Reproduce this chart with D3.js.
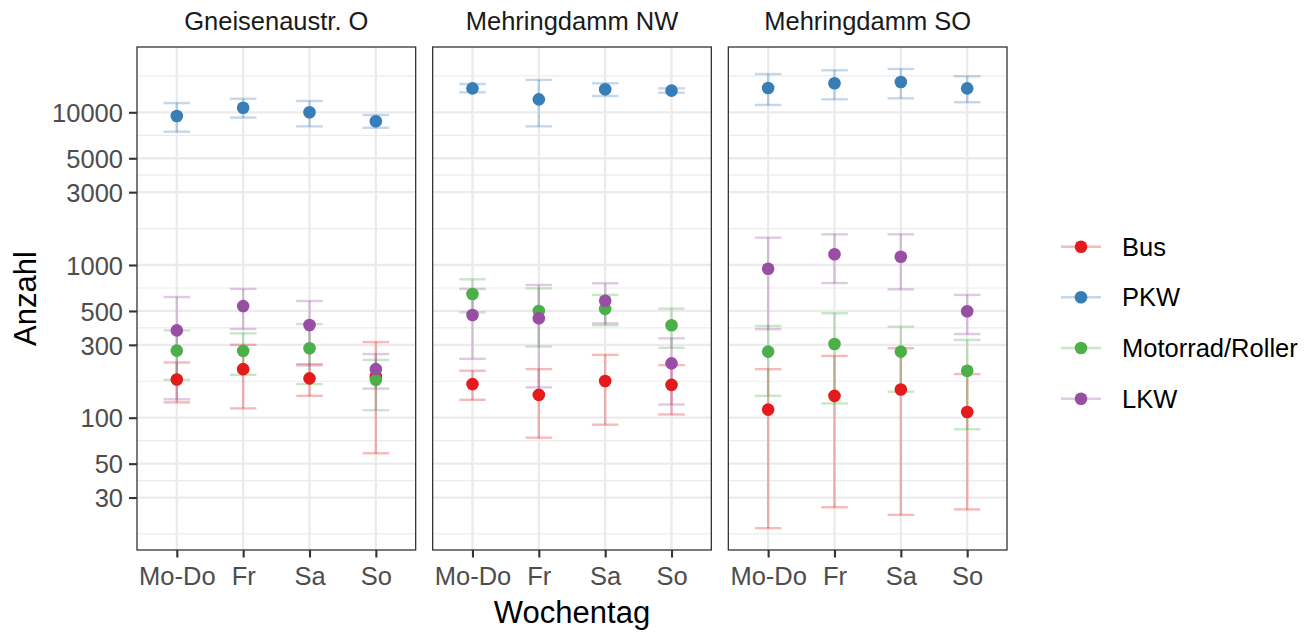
<!DOCTYPE html>
<html>
<head>
<meta charset="utf-8">
<script src="https://cdn.jsdelivr.net/npm/d3@7"></script>
<style>
  html, body { margin: 0; padding: 0; background: #fff; }
  svg { display: block; font-family: "Liberation Sans", Arial, Helvetica, sans-serif; }
</style>
</head>
<body>
<svg id="chart" width="1314" height="633"></svg>
<script>
// ---------- data ----------
const days = ["Mo-Do", "Fr", "Sa", "So"];
const stations = ["Gneisenaustr. O", "Mehringdamm NW", "Mehringdamm SO"];
const types = ["Bus", "PKW", "Motorrad/Roller", "LKW"];
const typeColors = ["#E41A1C", "#377EB8", "#4DAF4A", "#984EA3"];
const yTicks = [30, 50, 100, 300, 500, 1000, 3000, 5000, 10000];
const yBreaksAll = [10, 30, 50, 100, 300, 500, 1000, 3000, 5000, 10000, 30000];

// per station (rows) x day (cols)
const busMean = [[178, 208, 181, 186], [166, 141, 174, 164], [113, 139, 153, 109]];
const busLow  = [[126, 115, 139, 58.5], [131, 74, 90, 105], [18.9, 25.9, 23.1, 25.1]];
const busHigh = [[230, 300, 224, 313], [203, 208, 258, 221], [208, 254, 285, 193]];

const pkwMean = [[9460, 10720, 10000, 8730], [14350, 12160, 14150, 13860], [14430, 15490, 15790, 14350]];
const pkwLow  = [[7460, 9230, 8090, 7920], [13520, 8090, 12790, 13430], [11170, 12160, 12350, 11640]];
const pkwHigh = [[11500, 12270, 11860, 9600], [15310, 16300, 15490, 14350], [17810, 18850, 19230, 17210]];

const motoMean = [[275, 274, 285, 177], [646, 500, 516, 403], [271, 304, 271, 203]];
const motoLow  = [[177, 191, 166, 112], [490, 292, 403, 287], [139, 124, 148, 84]];
const motoHigh = [[373, 357, 410, 239], [806, 703, 637, 518], [399, 483, 395, 323]];

const lkwMean = [[373, 538, 405, 208], [471, 448, 583, 227], [946, 1175, 1133, 498]];
const lkwLow  = [[132, 381, 220, 155], [243, 158, 415, 122], [380, 762, 693, 353]];
const lkwHigh = [[617, 697, 581, 261], [697, 740, 759, 331], [1510, 1588, 1588, 637]];

const seriesMean = [busMean, pkwMean, motoMean, lkwMean];
const seriesLow = [busLow, pkwLow, motoLow, lkwLow];
const seriesHigh = [busHigh, pkwHigh, motoHigh, lkwHigh];

// ---------- layout ----------
const svg = d3.select("#chart");
const plotLeft = 137, plotRight = 1007, gap = 17;
const panelTop = 47, panelBottom = 550;
const panelW = (plotRight - plotLeft - 2 * gap) / 3;

const y = d3.scaleLog()
  .domain([Math.pow(10, 3 - 285 / 152.7), Math.pow(10, 3 + 218 / 152.7)])
  .range([panelBottom, panelTop]);

// minor breaks: midpoints (in log space) between consecutive major breaks
const minorBreaks = [];
for (let i = 0; i < yBreaksAll.length - 1; i++) {
  minorBreaks.push(Math.sqrt(yBreaksAll[i] * yBreaksAll[i + 1]));
}
const [dMin, dMax] = y.domain();
const inDomain = v => v >= dMin && v <= dMax;

const fontSmall = 25.5;
const textGray = "#4D4D4D";

stations.forEach((st, si) => {
  const x0 = plotLeft + si * (panelW + gap);
  const x = d3.scalePoint().domain(days).range([x0, x0 + panelW]).padding(0.6);
  const step = x.step();
  const g = svg.append("g");

  // background
  g.append("rect").attr("x", x0).attr("y", panelTop)
    .attr("width", panelW).attr("height", panelBottom - panelTop).attr("fill", "#fff");

  // minor grid
  g.selectAll(".minor").data(minorBreaks.filter(inDomain)).enter().append("line")
    .attr("x1", x0).attr("x2", x0 + panelW)
    .attr("y1", d => y(d)).attr("y2", d => y(d))
    .attr("stroke", "#EBEBEB").attr("stroke-width", 1.2);
  // major grid (horizontal)
  g.selectAll(".major").data(yBreaksAll.filter(inDomain)).enter().append("line")
    .attr("x1", x0).attr("x2", x0 + panelW)
    .attr("y1", d => y(d)).attr("y2", d => y(d))
    .attr("stroke", "#EBEBEB").attr("stroke-width", 2.3);
  // vertical grid
  g.selectAll(".vgrid").data(days).enter().append("line")
    .attr("x1", d => x(d)).attr("x2", d => x(d))
    .attr("y1", panelTop).attr("y2", panelBottom)
    .attr("stroke", "#EBEBEB").attr("stroke-width", 2.3);

  // error bars
  types.forEach((t, ti) => {
    const col = typeColors[ti];
    const eb = g.append("g").attr("stroke", col).attr("stroke-opacity", 0.3)
      .attr("stroke-width", 2.4).attr("fill", "none");
    days.forEach((d, di) => {
      const lo = seriesLow[ti][si][di], hi = seriesHigh[ti][si][di];
      const cx = x(d), hw = step * 0.2;
      eb.append("line").attr("x1", cx).attr("x2", cx).attr("y1", y(lo)).attr("y2", y(hi));
      eb.append("line").attr("x1", cx - hw).attr("x2", cx + hw).attr("y1", y(lo)).attr("y2", y(lo));
      eb.append("line").attr("x1", cx - hw).attr("x2", cx + hw).attr("y1", y(hi)).attr("y2", y(hi));
    });
  });

  // points
  types.forEach((t, ti) => {
    g.selectAll(".pt" + ti).data(days).enter().append("circle")
      .attr("cx", d => x(d))
      .attr("cy", (d, di) => y(seriesMean[ti][si][di]))
      .attr("r", 6.3)
      .attr("fill", typeColors[ti]);
  });

  // panel border
  g.append("rect").attr("x", x0).attr("y", panelTop)
    .attr("width", panelW).attr("height", panelBottom - panelTop)
    .attr("fill", "none").attr("stroke", "#333333").attr("stroke-width", 1.3);

  // strip label
  svg.append("text").attr("x", x0 + panelW / 2).attr("y", 30)
    .attr("text-anchor", "middle").attr("font-size", fontSmall).attr("fill", "#1A1A1A")
    .text(st);

  // x axis
  const xAxis = d3.axisBottom(x).tickSize(7.5).tickPadding(8);
  const xa = svg.append("g").attr("transform", `translate(0,${panelBottom})`).call(xAxis);
  xa.select(".domain").remove();
  xa.selectAll(".tick line").attr("stroke", "#333333").attr("stroke-width", 2.1);
  xa.selectAll(".tick text").attr("font-size", fontSmall).attr("fill", textGray)
    .attr("font-family", "Liberation Sans, Arial, sans-serif").attr("dy", "0.76em");
});

// y axis (left of first panel)
const yAxis = d3.axisLeft(y).tickValues(yTicks).tickFormat(d3.format("d")).tickSize(8).tickPadding(6);
const ya = svg.append("g").attr("transform", `translate(${plotLeft},0)`).call(yAxis);
ya.select(".domain").remove();
ya.selectAll(".tick line").attr("stroke", "#333333").attr("stroke-width", 2.1);
ya.selectAll(".tick text").attr("font-size", fontSmall).attr("fill", textGray)
  .attr("font-family", "Liberation Sans, Arial, sans-serif").attr("dy", "0.36em");

// axis titles
svg.append("text").attr("x", (plotLeft + plotRight) / 2).attr("y", 623)
  .attr("text-anchor", "middle").attr("font-size", 31).attr("fill", "#000").text("Wochentag");
svg.append("text")
  .attr("transform", `translate(36,${(panelTop + panelBottom) / 2}) rotate(-90)`)
  .attr("text-anchor", "middle").attr("font-size", 31).attr("fill", "#000").text("Anzahl");

// legend
const legY = [246.7, 297.3, 348, 398.7];
const lg = svg.append("g");
types.forEach((t, ti) => {
  const yy = legY[ti];
  lg.append("line").attr("x1", 1061).attr("x2", 1101).attr("y1", yy).attr("y2", yy)
    .attr("stroke", typeColors[ti]).attr("stroke-opacity", 0.3).attr("stroke-width", 2.4);
  lg.append("circle").attr("cx", 1081).attr("cy", yy).attr("r", 6.3).attr("fill", typeColors[ti]);
  lg.append("text").attr("x", 1122).attr("y", yy).attr("dy", "0.36em")
    .attr("font-size", fontSmall).attr("fill", "#000").text(t);
});
</script>
</body>
</html>
